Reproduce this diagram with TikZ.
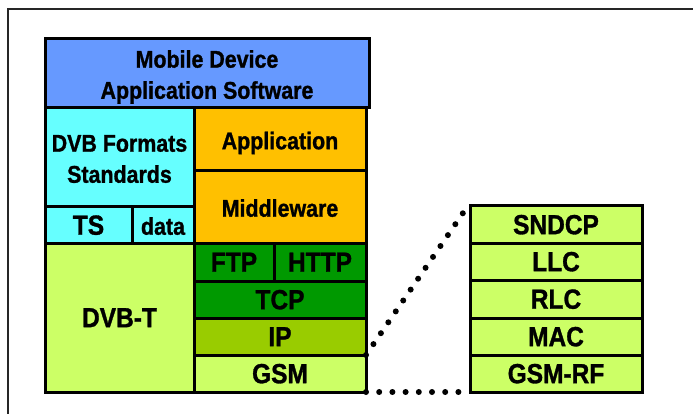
\documentclass[tikz,border=0pt]{standalone}
\usepackage{fontspec}
\setmainfont{Liberation Sans}[BoldFeatures={FakeBold=1.2}]
\usepackage{graphicx}
\definecolor{cblue}{HTML}{6699FF}
\definecolor{ccyan}{HTML}{66FFFF}
\definecolor{corange}{HTML}{FFC000}
\definecolor{cdgreen}{HTML}{009900}
\definecolor{colive}{HTML}{99CC00}
\definecolor{clgreen}{HTML}{CCFF66}
\newcommand{\lbl}[1]{\raisebox{-3.5pt}[\height][\depth]{\scalebox{1}[1.13]{\begin{tabular}{@{}c@{}}#1\end{tabular}}}}
\newcommand{\bx}[8]{% name x1 y1 x2 y2 fill size text
  \node[layerbox, fill=#6, minimum width={(#4-#2)*1pt}, minimum height={(#5-#3)*1pt}, font=\bfseries\fontsize{#7}{27.5}\selectfont]
    (#1) at ({(#2+#4)/2},{(#3+#5)/2}) {\lbl{#8}};}
\tikzset{
  layerbox/.style={draw=black, line width=3pt, inner sep=0pt, outer sep=0pt, text=black},
  dotline/.style={line width=6pt, line cap=round, dash pattern=on 0pt off 13.2pt},
  framel/.style={line width=2pt, draw=black!85}
}
\begin{document}
\begin{tikzpicture}[x=1pt,y=-1pt]
\useasboundingbox (0,0) rectangle (693,414);
\draw[framel] (8,414) -- (8,9) -- (693,9);
% left stack
\bx{top}{45}{39}{369}{108}{cblue}{21.4}{Mobile Device\\Application Software}
\bx{dvbf}{45}{108}{194}{207}{ccyan}{21.4}{DVB Formats\\Standards}
\bx{ts}{45}{207}{132}{243}{ccyan}{24.5}{TS}
\bx{data}{132}{207}{194}{243}{ccyan}{21.4}{data}
\bx{dvbt}{45}{243}{194}{392}{clgreen}{24.5}{DVB-T}
\bx{app}{194}{108}{366}{171}{corange}{21.4}{Application}
\bx{mid}{194}{171}{366}{243}{corange}{21.4}{Middleware}
\bx{ftp}{194}{243}{274}{281}{cdgreen}{24.5}{FTP}
\bx{http}{274}{243}{366}{281}{cdgreen}{24.5}{HTTP}
\bx{tcp}{194}{281}{366}{318}{cdgreen}{24.5}{TCP}
\bx{ip}{194}{318}{366}{355}{colive}{24.5}{IP}
\bx{gsm}{194}{355}{366}{392}{clgreen}{24.5}{GSM}
% right stack
\bx{sndcp}{470}{206}{642}{243}{clgreen}{24.5}{SNDCP}
\bx{llc}{470}{243}{642}{280}{clgreen}{24.5}{LLC}
\bx{rlc}{470}{280}{642}{318}{clgreen}{24.5}{RLC}
\bx{mac}{470}{318}{642}{355}{clgreen}{24.5}{MAC}
\bx{gsmrf}{470}{355}{642}{392}{clgreen}{24.5}{GSM-RF}
% dotted connectors
\coordinate (d1) at (463,213);
\coordinate (d2) at (462,392);
\draw[dotline] (gsm.north east) -- (d1);
\draw[dotline] (gsm.south east) -- (d2);
\end{tikzpicture}
\end{document}
